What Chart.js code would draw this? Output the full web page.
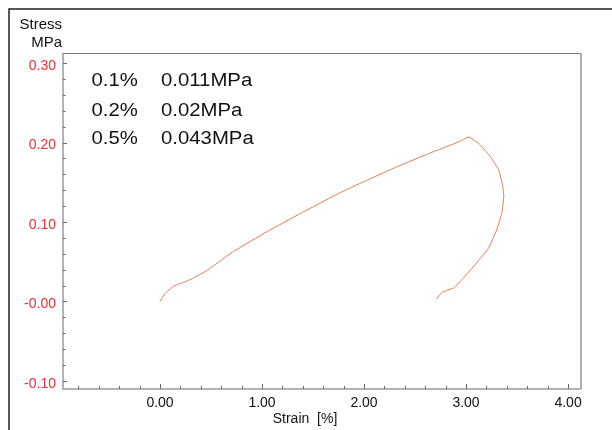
<!DOCTYPE html>
<html>
<head>
<meta charset="utf-8">
<script src="https://cdn.jsdelivr.net/npm/chart.js@4.4.1/dist/chart.umd.min.js"></script>
<style>
  html, body { margin: 0; padding: 0; background: #fff; }
  #wrap { width: 612px; height: 430px; position: relative; }
</style>
</head>
<body>
<div id="wrap"><canvas id="chart" width="612" height="430"></canvas></div>
<script>
// stress-strain curve, loading then unloading
const strain = [0, 0.05, 0.13, 0.23, 0.32, 0.46, 0.59, 0.72, 1.05, 1.38, 1.75, 2.00, 2.33, 2.65, 2.92, 3.03,
                3.14, 3.24, 3.32, 3.36, 3.37, 3.35, 3.30, 3.22, 3.10, 2.97, 2.88, 2.81, 2.76, 2.71];
const stress = [0, 0.010, 0.019, 0.024, 0.029, 0.039, 0.051, 0.063, 0.088, 0.111, 0.136, 0.151, 0.170, 0.187, 0.2005, 0.207,
                0.197, 0.182, 0.166, 0.145, 0.132, 0.111, 0.090, 0.067, 0.048, 0.029, 0.017, 0.014, 0.011, 0.003];

const xMajor = [0, 1, 2, 3, 4];
const yMajor = [-0.1, 0, 0.1, 0.2, 0.3];
const xMinorStep = 0.2;
const yMinorStep = 0.02;

const noteStrain = ["0.1%", "0.2%", "0.5%"];
const noteStress = ["0.011MPa", "0.02MPa", "0.043MPa"];

const xRange = [-0.951, 4.127];
const yRange = [-0.1102, 0.3128];

function isMajor(v, list) {
  return list.some(m => Math.abs(m - v) < 1e-6);
}

function buildTicks(lo, hi, step) {
  const out = [];
  const start = Math.ceil(lo / step - 1e-6);
  const end = Math.floor(hi / step + 1e-6);
  for (let i = start; i <= end; i++) out.push({ value: +(i * step).toFixed(6) });
  return out;
}

const framePlugin = {
  id: "frame",
  afterDraw(chart) {
    const ctx = chart.ctx;
    const a = chart.chartArea;
    const xs = chart.scales.x, ys = chart.scales.y;
    ctx.save();

    // outer border (left + top)
    ctx.strokeStyle = "#222";
    ctx.lineWidth = 1.5;
    ctx.beginPath();
    ctx.moveTo(9, 430);
    ctx.lineTo(9, 9);
    ctx.lineTo(612, 9);
    ctx.stroke();

    // plot box
    ctx.lineWidth = 1;
    ctx.strokeStyle = "#777";
    ctx.beginPath();
    ctx.moveTo(a.left, a.top + 0.5);
    ctx.lineTo(a.right, a.top + 0.5);
    ctx.stroke();
    ctx.strokeStyle = "#b0b0b0";
    ctx.lineWidth = 2;
    ctx.beginPath();
    ctx.moveTo(a.right, a.top);
    ctx.lineTo(a.right, a.bottom);
    ctx.stroke();
    ctx.strokeStyle = "#999";
    ctx.lineWidth = 1.5;
    ctx.beginPath();
    ctx.moveTo(a.left, a.top);
    ctx.lineTo(a.left, a.bottom);
    ctx.lineTo(a.right, a.bottom);
    ctx.stroke();

    // inward ticks
    ctx.strokeStyle = "#666";
    ctx.lineWidth = 1;
    ctx.beginPath();
    xs.ticks.forEach(t => {
      const px = Math.round(xs.getPixelForValue(t.value)) + 0.5;
      const len = isMajor(t.value, xMajor) ? 5 : 3;
      ctx.moveTo(px, a.bottom);
      ctx.lineTo(px, a.bottom - len);
    });
    ys.ticks.forEach(t => {
      const py = Math.round(ys.getPixelForValue(t.value)) + 0.5;
      const len = isMajor(t.value, yMajor) ? 4 : 2.5;
      ctx.moveTo(a.left, py);
      ctx.lineTo(a.left + len, py);
    });
    ctx.stroke();

    // axis titles
    ctx.fillStyle = "#111";
    ctx.font = "15px 'Liberation Sans', Arial, sans-serif";
    ctx.textAlign = "right";
    ctx.textBaseline = "middle";
    ctx.fillText("Stress", 62, 25);
    ctx.fillText("MPa", 62, 43);
    ctx.font = "14px 'Liberation Sans', Arial, sans-serif";
    ctx.textAlign = "center";
    ctx.fillText("Strain  [%]", 305, 419);

    // yield notes, slightly wide lettering as in the picture
    ctx.font = "18px 'Liberation Sans', Arial, sans-serif";
    ctx.textAlign = "left";
    const rows = [81.5, 111.5, 139.5];
    for (let i = 0; i < noteStrain.length; i++) {
      ctx.save();
      ctx.translate(91.5, rows[i]);
      ctx.scale(1.13, 1);
      ctx.fillText(noteStrain[i], 0, 0);
      ctx.restore();
      ctx.save();
      ctx.translate(161, rows[i]);
      ctx.scale(1.13, 1);
      ctx.fillText(noteStress[i], 0, 0);
      ctx.restore();
    }
    ctx.restore();
  }
};

const points = strain.map((s, i) => ({ x: s, y: stress[i] }));

new Chart(document.getElementById("chart"), {
  type: "scatter",
  data: {
    datasets: [{
      data: points,
      showLine: true,
      borderColor: "#e07a58",
      borderWidth: 1,
      pointRadius: 0,
      tension: 0.1,
      fill: false
    }]
  },
  options: {
    responsive: false,
    animation: false,
    layout: { padding: { left: 0, top: 53, right: 31, bottom: 0 } },
    plugins: { legend: { display: false }, tooltip: { enabled: false }, title: { display: false } },
    scales: {
      x: {
        type: "linear",
        min: xRange[0],
        max: xRange[1],
        grid: { display: false, drawTicks: false },
        border: { display: false },
        afterBuildTicks: s => { s.ticks = buildTicks(xRange[0], xRange[1], xMinorStep); },
        afterFit: s => { s.height = 41; },
        ticks: {
          autoSkip: false,
          maxRotation: 0,
          padding: 6,
          color: "#111",
          font: { family: "'Liberation Sans', Arial, sans-serif", size: 14 },
          callback: v => isMajor(v, xMajor) ? v.toFixed(2) : ""
        }
      },
      y: {
        type: "linear",
        min: yRange[0],
        max: yRange[1],
        grid: { display: false, drawTicks: false },
        border: { display: false },
        afterBuildTicks: s => { s.ticks = buildTicks(yRange[0], yRange[1], yMinorStep); },
        afterFit: s => { s.width = 63; },
        ticks: {
          autoSkip: false,
          padding: 7,
          labelOffset: 3,
          color: "#e5323c",
          font: { family: "'Liberation Sans', Arial, sans-serif", size: 14 },
          callback: v => {
            if (!isMajor(v, yMajor)) return "";
            return Math.abs(v) < 1e-9 ? "-0.00" : v.toFixed(2);
          }
        }
      }
    }
  },
  plugins: [framePlugin]
});
</script>
</body>
</html>
